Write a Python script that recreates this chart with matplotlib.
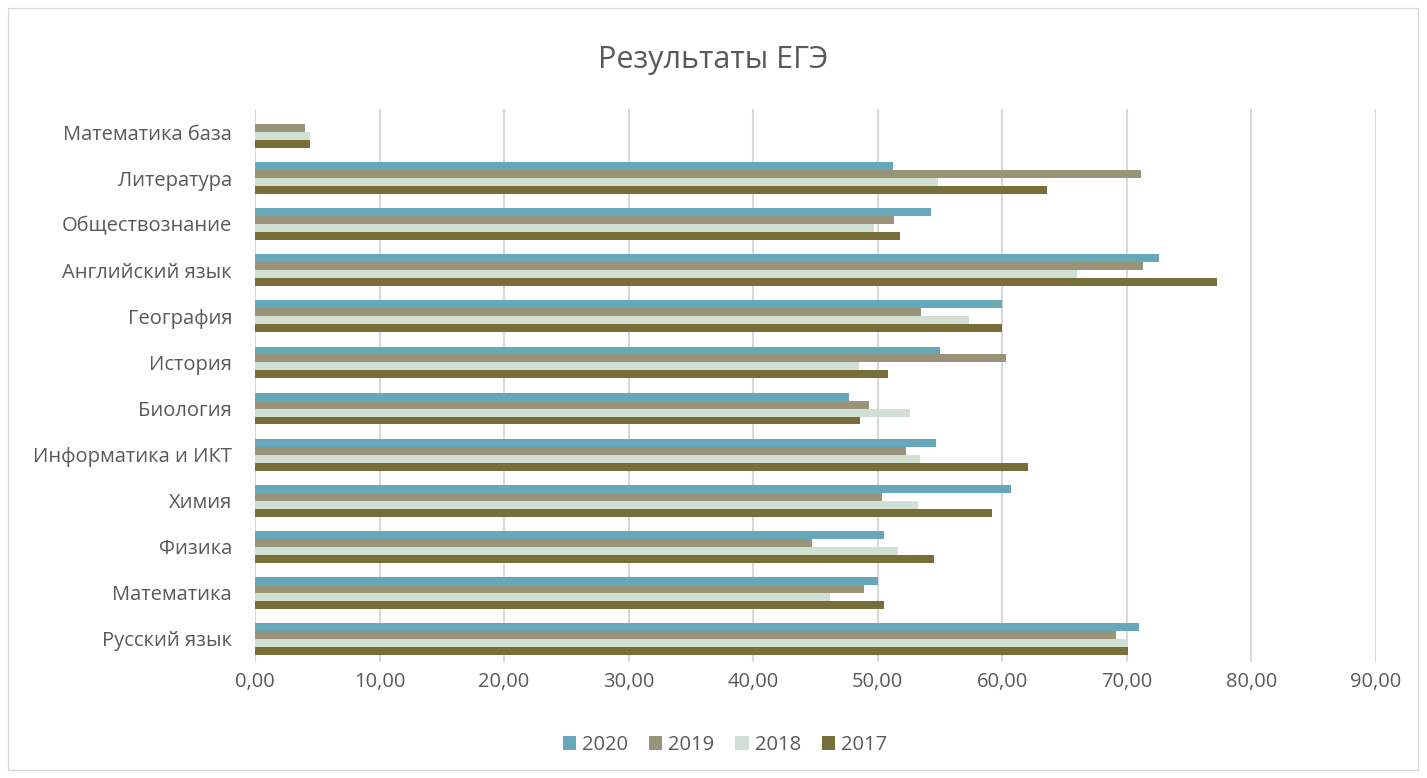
import numpy as np
import matplotlib.pyplot as plt
from matplotlib.patches import Rectangle
from matplotlib.ticker import FuncFormatter

# dati (dal basso verso l'alto)
subjects = ["Русский язык", "Математика", "Физика", "Химия", "Информатика и ИКТ",
            "Биология", "История", "География", "Английский язык",
            "Обществознание", "Литература", "Математика база"]
years = ["2020", "2019", "2018", "2017"]
v2020 = [71.0, 50.0, 50.5, 60.7, 54.7, 47.7, 55.0, 60.0, 72.6, 54.3, 51.2, 0.0]
v2019 = [69.1, 48.9, 44.7, 50.3, 52.3, 49.3, 60.3, 53.5, 71.3, 51.3, 71.1, 4.0]
v2018 = [70.0, 46.2, 51.6, 53.2, 53.4, 52.6, 48.5, 57.3, 66.0, 49.7, 54.8, 4.4]
v2017 = [70.1, 50.5, 54.5, 59.2, 62.1, 48.6, 50.8, 60.0, 77.2, 51.8, 63.6, 4.4]
colors = ["#66A7BA", "#999479", "#D1E0D3", "#786E3A"]

plt.rcParams['font.family'] = ['Open Sans', 'DejaVu Sans']

fig = plt.figure(figsize=(14.27, 7.78), dpi=100)
ax = fig.add_axes([255/1427, 1-662/778, 1121/1427, 553/778])

y = np.arange(len(subjects))
h = 0.173
series = [v2020, v2019, v2018, v2017]
for k, (vals, lab, col) in enumerate(zip(series, years, colors)):
    ax.barh(y + (1.5 - k)*h, vals, height=h, color=col, label=lab, zorder=3)

ax.set_xlim(0, 90)
ax.set_ylim(-0.5, len(subjects)-0.5)
ax.set_xticks(np.arange(0, 91, 10))
ax.xaxis.set_major_formatter(FuncFormatter(lambda v, p: f"{v:.2f}".replace(".", ",")))
ax.set_yticks(y)
ax.set_yticklabels(subjects)
ax.tick_params(length=0, labelsize=14.5, colors="#595959")
ax.tick_params(axis='x', pad=7)
ax.tick_params(axis='y', pad=16.5)
ax.grid(axis='x', color="#D9D9D9", linewidth=1.5, zorder=0)
for s in ax.spines.values():
    s.set_visible(False)

fig.text(0.5, 1-60/778, "Результаты ЕГЭ", ha='center', va='center',
         fontsize=22, color="#595959")
fig.legend(loc='center', bbox_to_anchor=(0.508, 1-745/778), ncol=4, frameon=False,
           fontsize=14.5, handlelength=0.65, handleheight=0.65, handletextpad=0.3,
           columnspacing=1.05, labelcolor="#595959")

fig.patches.append(Rectangle((8/1427, 8/778), 1410/1427, 762/778, transform=fig.transFigure,
                             fill=False, edgecolor="#D9D9D9", linewidth=1))

fig.savefig("out.png", dpi=100)
